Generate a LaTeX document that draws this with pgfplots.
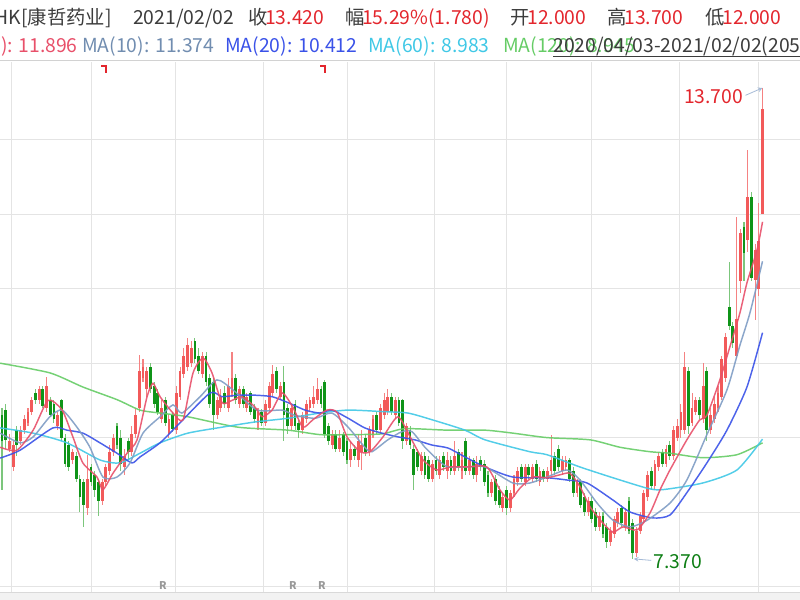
\documentclass[border=0pt]{standalone}
\usepackage{fontspec}
\setmainfont{Noto Sans CJK SC}
\usepackage{pgfplots}
\pgfplotsset{compat=1.18}
\usepackage{pgfplotstable}

\definecolor{upbody}{HTML}{F25A5A}
\definecolor{upwick}{HTML}{F58282}
\definecolor{dnbody}{HTML}{0F9418}
\definecolor{dnwick}{HTML}{7CC67C}
\definecolor{maA}{HTML}{E8506A}
\definecolor{maB}{HTML}{7E9CC4}
\definecolor{maC}{HTML}{3A52E8}
\definecolor{maD}{HTML}{40C8E6}
\definecolor{maE}{HTML}{66CC66}
\definecolor{hdr}{HTML}{3C3C3C}
\definecolor{num}{HTML}{E3262D}
\definecolor{gridc}{HTML}{E4E4E4}

% daily candles: index, open, high, low, close
\pgfplotstableread{
i o h l c
0 9.30 9.40 8.30 8.95
1 9.37 9.45 8.85 8.97
2 8.85 9.05 8.80 8.95
3 8.60 8.95 8.55 8.90
4 9.10 9.15 8.75 8.90
5 8.95 9.15 8.90 9.10
6 9.10 9.30 9.05 9.25
7 9.20 9.40 9.15 9.35
8 9.35 9.55 9.30 9.50
9 9.60 9.65 9.45 9.50
10 9.50 9.70 9.45 9.65
11 9.65 9.70 9.40 9.42
12 9.40 9.82 9.35 9.70
13 9.50 9.55 9.28 9.30
14 9.45 9.50 9.20 9.25
15 9.15 9.35 9.10 9.30
16 9.50 9.52 8.95 9.00
17 9.00 9.05 8.60 8.65
18 8.90 8.95 8.55 8.60
19 8.70 8.85 8.65 8.80
20 8.75 8.80 8.40 8.45
21 8.45 8.50 8.00 8.20
22 8.40 8.45 7.80 8.10
23 8.05 8.77 7.96 8.45
24 8.60 8.65 8.35 8.40
25 8.50 8.55 8.20 8.30
26 8.40 8.45 7.95 8.15
27 8.15 8.45 8.10 8.40
28 8.40 8.65 8.35 8.60
29 8.55 8.90 8.50 8.80
30 8.80 9.05 8.75 9.00
31 9.15 9.20 8.85 8.90
32 9.00 9.10 8.55 8.65
33 8.60 8.85 8.50 8.75
34 8.95 9.00 8.70 8.80
35 8.80 9.15 8.75 9.05
36 9.05 9.40 9.00 9.30
37 9.40 10.11 9.35 9.90
38 9.80 10.05 9.75 9.95
39 9.65 9.95 9.55 9.90
40 9.95 10.00 9.60 9.65
41 9.70 9.75 9.40 9.45
42 9.60 9.65 9.30 9.35
43 9.25 9.50 9.20 9.40
44 9.50 9.55 9.15 9.20
45 9.05 9.30 9.00 9.25
46 9.30 9.35 9.08 9.12
47 9.10 9.70 9.05 9.60
48 9.55 9.95 9.50 9.90
49 9.85 10.20 9.80 10.10
50 9.95 10.34 9.90 10.25
51 10.00 10.30 9.95 10.20
52 10.30 10.34 10.00 10.05
53 10.10 10.20 9.85 9.90
54 9.85 10.15 9.80 10.10
55 10.10 10.15 9.70 9.75
56 9.80 9.85 9.40 9.45
57 9.75 9.80 9.10 9.30
58 9.30 9.55 9.25 9.50
59 9.40 9.65 9.35 9.55
60 9.60 9.70 9.40 9.45
61 9.40 9.80 9.35 9.70
62 9.60 10.15 9.55 9.80
63 9.80 9.85 9.45 9.50
64 9.45 9.70 9.40 9.65
65 9.65 9.70 9.40 9.45
66 9.40 9.60 9.35 9.55
67 9.60 9.62 9.30 9.35
68 9.40 9.45 9.20 9.25
69 9.20 9.40 9.10 9.35
70 9.35 9.38 9.15 9.20
71 9.20 9.50 9.15 9.45
72 9.40 9.75 9.35 9.70
73 9.60 9.98 9.55 9.85
74 9.90 9.95 9.60 9.65
75 9.55 9.75 9.50 9.70
76 9.75 9.96 8.95 9.30
77 9.40 9.45 9.05 9.15
78 9.15 9.45 9.10 9.40
79 9.45 9.50 9.10 9.15
80 9.20 9.25 9.00 9.10
81 9.10 9.35 9.05 9.30
82 9.25 9.50 9.20 9.45
83 9.40 9.55 9.35 9.50
84 9.45 9.70 9.40 9.55
85 9.50 9.80 9.45 9.65
86 9.65 9.70 9.40 9.45
87 9.75 9.78 9.00 9.05
88 9.15 9.20 8.90 8.95
89 8.90 9.10 8.85 9.05
90 9.05 9.10 8.80 8.85
91 8.85 9.10 8.80 9.00
92 9.05 9.08 8.75 8.80
93 8.95 9.00 8.65 8.70
94 8.70 8.95 8.60 8.85
95 8.85 8.90 8.70 8.75
96 8.70 9.05 8.60 8.95
97 8.80 9.10 8.56 8.90
98 9.00 9.05 8.75 8.80
99 8.80 9.15 8.75 9.10
100 9.05 9.30 9.00 9.25
101 9.30 9.35 9.05 9.10
102 9.10 9.45 9.05 9.40
103 9.30 9.60 9.25 9.50
104 9.35 9.65 9.30 9.55
105 9.55 9.60 9.30 9.35
106 9.30 9.55 9.25 9.50
107 9.50 9.55 9.15 9.20
108 9.50 9.52 8.85 8.95
109 8.95 9.20 8.90 9.15
110 9.10 9.15 8.85 8.90
111 8.85 8.90 8.30 8.50
112 8.80 8.85 8.55 8.60
113 8.55 8.80 8.50 8.75
114 8.75 8.80 8.45 8.50
115 8.70 8.75 8.40 8.45
116 8.45 8.70 8.40 8.65
117 8.70 8.75 8.50 8.55
118 8.50 8.75 8.45 8.70
119 8.75 8.80 8.55 8.60
120 8.55 8.80 8.45 8.70
121 8.70 8.75 8.50 8.55
122 8.55 8.95 8.50 8.75
123 8.80 8.85 8.55 8.60
124 8.55 8.80 8.45 8.70
125 8.95 9.00 8.50 8.55
126 8.55 8.75 8.50 8.70
127 8.70 8.72 8.45 8.50
128 8.50 8.75 8.40 8.65
129 8.70 8.75 8.55 8.60
130 8.65 8.70 8.35 8.40
131 8.50 8.55 8.20 8.25
132 8.25 8.45 8.20 8.40
133 8.45 8.50 8.10 8.15
134 8.30 8.35 8.05 8.10
135 8.05 8.25 8.00 8.20
136 8.30 8.35 7.96 8.05
137 8.05 8.30 8.00 8.25
138 8.25 8.50 8.20 8.45
139 8.40 8.60 8.35 8.55
140 8.60 8.65 8.40 8.45
141 8.40 8.65 8.35 8.60
142 8.60 8.65 8.45 8.50
143 8.45 8.65 8.40 8.60
144 8.65 8.70 8.40 8.45
145 8.40 8.60 8.35 8.55
146 8.55 8.58 8.40 8.45
147 8.45 8.60 8.40 8.55
148 8.55 9.04 8.50 8.70
149 8.75 8.80 8.50 8.55
150 8.85 8.90 8.55 8.60
151 8.55 8.75 8.50 8.70
152 8.60 8.75 8.55 8.70
153 8.70 8.72 8.40 8.45
154 8.55 8.60 8.20 8.25
155 8.25 8.45 8.20 8.40
156 8.40 8.45 8.05 8.10
157 8.20 8.25 7.95 8.00
158 8.00 8.20 7.95 8.15
159 8.15 8.20 7.85 7.90
160 8.00 8.05 7.75 7.80
161 7.80 8.00 7.75 7.95
162 7.95 8.00 7.65 7.70
163 7.80 7.85 7.52 7.60
164 7.60 7.80 7.55 7.75
165 7.70 7.95 7.65 7.90
166 7.85 8.05 7.80 8.00
167 8.05 8.10 7.80 7.85
168 7.80 8.05 7.75 8.00
169 8.15 8.20 7.70 7.75
170 7.85 7.90 7.37 7.45
171 7.45 7.80 7.40 7.75
172 7.75 8.00 7.70 7.95
173 7.90 8.30 7.85 8.25
174 8.20 8.55 8.15 8.50
175 8.55 8.60 8.30 8.35
176 8.35 8.70 8.30 8.65
177 8.60 8.80 8.55 8.75
178 8.80 8.85 8.60 8.65
179 8.65 8.90 8.60 8.85
180 8.90 8.95 8.70 8.75
181 8.75 9.15 8.70 9.10
182 9.00 9.25 8.95 9.15
183 9.10 9.45 9.00 9.35
184 9.10 10.15 9.05 9.95
185 9.90 9.95 9.05 9.15
186 9.20 9.60 9.15 9.40
187 9.35 9.55 9.30 9.50
188 9.50 9.55 9.25 9.30
189 9.25 10.00 9.20 9.70
190 9.90 9.95 8.95 9.10
191 9.10 9.40 9.05 9.30
192 9.25 9.55 9.20 9.45
193 9.40 9.70 9.35 9.60
194 9.55 10.10 9.50 10.05
195 9.80 10.40 9.75 10.35
196 10.75 11.36 10.45 10.50
197 10.50 10.55 10.20 10.27
198 10.10 11.97 10.05 10.60
199 11.10 11.80 10.95 11.75
200 11.83 11.90 11.10 11.48
201 11.65 12.87 11.50 12.23
202 12.23 12.30 11.10 11.15
203 11.12 11.60 10.58 11.52
204 11.00 12.15 10.90 11.64
205 12.00 13.70 12.00 13.42
}\candles

\pgfplotsset{
  wick/.style={mark=none, forget plot, draw=none,
    error bars/.cd, y dir=both, y explicit, error mark=none,
    error bar style={draw=#1, solid, line width=0.8pt}},
  body/.style={mark=none, forget plot, draw=none,
    error bars/.cd, y dir=both, y explicit, error mark=none,
    error bar style={draw=#1, solid, line width=2.1pt}},
  ma/.style={#1, line width=1.1pt, mark=none, smooth, tension=0.4, opacity=0.9},
}

\begin{document}
\begin{tikzpicture}
\path[use as bounding box] (0,0) rectangle (600pt,450pt);
\begin{axis}[
    at={(0pt,6pt)}, anchor=south west,
    scale only axis, width=600pt, height=397.5pt,
    xmin=-0.54, xmax=215.1,
    ymin=6.925, ymax=14.048,
    xtick={2.43,24.0,46.9,70.4,93.0,116.7,136.1,159.0,182.5,204.0},
    ytick={7,8,...,13},
    xticklabels={}, yticklabels={},
    grid=major,
    major grid style={draw=gridc, line width=0.75pt},
    axis line style={draw=none},
    tick style={draw=none},
]
% up candles
\addplot[restrict expr to domain={\thisrow{c}-\thisrow{o}}{0:10}, wick=upwick]
  table[x=i, y expr={(\thisrow{h}+\thisrow{l})/2}, y error expr={(\thisrow{h}-\thisrow{l})/2}] {\candles};
\addplot[restrict expr to domain={\thisrow{c}-\thisrow{o}}{0:10}, body=upbody]
  table[x=i, y expr={(\thisrow{o}+\thisrow{c})/2}, y error expr={max(abs(\thisrow{c}-\thisrow{o})/2,0.012)}] {\candles};
% down candles
\addplot[restrict expr to domain={\thisrow{c}-\thisrow{o}}{-10:-0.0001}, wick=dnwick]
  table[x=i, y expr={(\thisrow{h}+\thisrow{l})/2}, y error expr={(\thisrow{h}-\thisrow{l})/2}] {\candles};
\addplot[restrict expr to domain={\thisrow{c}-\thisrow{o}}{-10:-0.0001}, body=dnbody]
  table[x=i, y expr={(\thisrow{o}+\thisrow{c})/2}, y error expr={max(abs(\thisrow{c}-\thisrow{o})/2,0.012)}] {\candles};

% MA120
\addplot[ma=maE] coordinates {
(-0.5,10.00)(12.9,9.87)(21.8,9.68)(31.0,9.51)(37.2,9.37)(42.6,9.33)(50.1,9.28)
(63.6,9.14)(77.1,9.10)(85.7,9.04)(93.3,9.04)(102.4,9.05)(108.6,9.12)(120.2,9.10)
(130.2,9.10)(137.7,9.06)(146.9,9.00)(158.5,8.97)(166.6,8.87)(174.7,8.81)(180.05,8.79)
(188.9,8.73)(198.1,8.77)(205,8.93)};
% MA60
\addplot[ma=maD] coordinates {
(-0.5,9.13)(8.4,9.06)(17.5,8.93)(26.4,8.70)(31.8,8.66)(37.2,8.79)(42.6,8.93)
(50.1,9.06)(59.3,9.14)(68.2,9.21)(77.1,9.26)(85.7,9.33)(93.3,9.37)(102.4,9.35)
(109.4,9.33)(115.9,9.24)(124.8,9.10)(130.2,8.97)(142.3,8.81)(146.9,8.77)
(155.8,8.605)(164.7,8.46)(173.9,8.32)(178,8.30)(188.9,8.39)(198.1,8.565)(205,8.98)};
% MA20
\addplot[ma=maC] coordinates {
(-0.5,8.725)(4.85,8.83)(13.7,9.13)(17.5,9.10)(21.8,9.06)(26.4,8.93)(31.0,8.79)
(35.0,8.66)(37.2,8.74)(42.6,8.93)(48.0,9.20)(56.1,9.60)(59.3,9.55)(63.6,9.57)
(68.2,9.57)(72.8,9.55)(77.1,9.47)(81.7,9.37)(85.7,9.33)(88.9,9.37)(93.3,9.26)
(97.8,9.13)(102.4,9.06)(106.7,9.01)(111.3,8.97)(115.9,8.90)(120.2,8.86)(124.8,8.74)
(130.2,8.605)(137.7,8.47)(146.9,8.46)(152.3,8.43)(157.7,8.39)(164.7,8.16)(169.3,8.00)
(175.5,7.92)(180.05,7.96)(184.6,8.26)(190.0,8.66)(195.4,9.10)(200.8,9.68)(205,10.41)};
% MA10
\addplot[ma=maB] coordinates {
(-0.5,9.06)(4.85,8.93)(8.4,9.01)(12.9,9.28)(16.2,9.37)(20.2,9.14)(23.7,8.87)
(27.2,8.47)(31.0,8.47)(34.5,8.66)(38.0,9.06)(42.6,9.28)(46.1,9.44)(48.5,9.33)
(53.4,9.55)(57.95,9.775)(62.3,9.64)(68.7,9.37)(75.5,9.37)(78.9,9.30)(84.4,9.26)
(88.9,9.33)(93.3,9.14)(97.8,8.87)(99.7,8.81)(104.0,8.97)(107.8,9.08)(110.5,9.08)
(114.0,8.87)(117.5,8.70)(120.2,8.605)(124.8,8.605)(130.2,8.605)(137.7,8.39)
(142.3,8.39)(146.9,8.47)(152.3,8.565)(155.8,8.43)(160.4,8.12)(164.7,7.89)
(169.3,7.80)(173.9,7.89)(180.05,8.12)(184.6,8.43)(190.0,9.04)(195.4,9.64)
(198.9,10.24)(201.6,10.675)(205,11.37)};
% MA5
\addplot[ma=maA] coordinates {
(-0.5,8.87)(4.0,8.83)(8.4,9.10)(12.4,9.50)(16.2,9.37)(19.1,9.01)(21.8,8.66)
(25.6,8.47)(27.2,8.30)(29.9,8.52)(33.7,8.79)(36.4,8.97)(39.1,9.55)(40.7,9.73)
(42.6,9.55)(46.1,9.33)(48.8,9.24)(51.5,9.87)(54.2,10.07)(56.6,9.87)(59.3,9.47)
(62.0,9.50)(64.7,9.55)(68.2,9.41)(70.1,9.28)(72.8,9.37)(75.5,9.60)(78.4,9.41)
(81.1,9.14)(83.8,9.24)(87.6,9.37)(90.3,9.34)(93.0,9.01)(96.5,8.81)(99.2,8.81)
(102.7,9.01)(106.7,9.28)(110.0,9.01)(113.5,8.70)(117.25,8.565)(120.75,8.605)
(125.3,8.605)(130.7,8.605)(134.2,8.30)(136.9,8.16)(139.6,8.32)(143.1,8.47)
(146.9,8.46)(150.4,8.50)(153.1,8.52)(155.8,8.34)(158.5,8.07)(162.0,7.85)
(164.7,7.73)(167.4,7.80)(171.2,7.76)(174.7,7.99)(177.4,8.30)(180.05,8.565)
(184.6,8.97)(188.1,9.24)(190.0,9.30)(193.5,9.775)(196.2,10.22)(198.9,10.675)
(200.8,11.08)(203.5,11.52)(205,11.90)};

% high / low annotations
\draw[-stealth, draw=maB!70, line width=0.6pt] (200.4,13.60) -- (205,13.70);
\node[anchor=east, text=num, font=\fontsize{14.5}{16}\selectfont, inner sep=1pt] at (200.2,13.58) {13.700};
\draw[-stealth, draw=maB!70, line width=0.6pt] (175.0,7.35) -- (170.3,7.37);
\node[anchor=west, text=dnbody!85!black, font=\fontsize{14.5}{16}\selectfont, inner sep=1pt] at (175.2,7.33) {7.370};
\end{axis}

\begin{scope}[x=0.75pt, y=-0.75pt, yshift=450pt]
  % separators
  \draw[draw=gray!35, line width=0.75pt] (0,61) -- (800,61);
  \fill[gray!10] (0,593) rectangle (800,600);
  \draw[draw=gray!30, line width=0.75pt] (0,592.5) -- (800,592.5);
  % red flags at the top
  \draw[draw=num, line width=1.1pt] (101,66) -- (106,66) -- (106,73);
  \draw[draw=num, line width=1.1pt] (320,66) -- (325,66) -- (325,73);
  % R markers
  \foreach \xx in {163,293,322}
    \node[text=gray!80, font=\fontsize{8}{9}\selectfont\bfseries, inner sep=0pt] at (\xx,586) {R};
  % header line 1
  \begin{scope}[every node/.style={font=\fontsize{14.5}{16}\selectfont, inner sep=0pt}]
  \node[anchor=base east, text=hdr] at (112,25) {00867.HK[康哲药业]};
  \node[anchor=base west, text=hdr] at (133,25) {2021/02/02};
  \node[anchor=base west, text=hdr] at (248,25) {收};
  \node[anchor=base west, text=num] at (265,25) {13.420};
  \node[anchor=base west, text=hdr] at (345,25) {幅};
  \node[anchor=base west, text=num] at (362,25) {15.29\%(1.780)};
  \node[anchor=base west, text=hdr] at (510,25) {开};
  \node[anchor=base west, text=num] at (527,25) {12.000};
  \node[anchor=base west, text=hdr] at (607,25) {高};
  \node[anchor=base west, text=num] at (624,25) {13.700};
  \node[anchor=base west, text=hdr] at (705,25) {低};
  \node[anchor=base west, text=num] at (722,25) {12.000};
  % header line 2
  \node[anchor=base east, text=maA] at (78,53) {MA(5): 11.896};
  \node[anchor=base west, text=maB!90!black] at (82,53) {MA(10): 11.374};
  \node[anchor=base west, text=maC] at (225,53) {MA(20): 10.412};
  \node[anchor=base west, text=maD] at (368,53) {MA(60): 8.983};
  \node[anchor=base west, text=maE] at (503,53) {MA(120): 8.945};
  \node[anchor=base west, text=hdr] at (553,53) {2020/04/03-2021/02/02(205)};
  \end{scope}
  \draw[draw=hdr, line width=0.6pt] (553,56) -- (800,56);
\end{scope}
\end{tikzpicture}
\end{document}
